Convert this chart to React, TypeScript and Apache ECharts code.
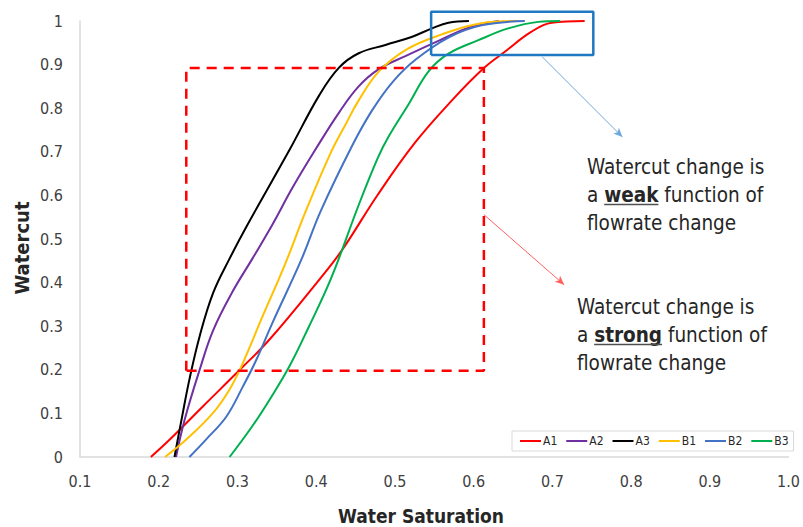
import React, { useEffect, useRef } from "react";
import * as echarts from "echarts";

// ---- data (water saturation, watercut) ----
const A1: number[][] = [[0.19,0],[0.214,0.04],[0.256,0.116],[0.303,0.2],[0.341,0.27],[0.404,0.407],[0.433,0.475],[0.478,0.601],[0.526,0.722],[0.573,0.819],[0.613,0.892],[0.64,0.93],[0.673,0.975],[0.699,0.996],[0.741,1.0]];
const A2: number[][] = [[0.222,0],[0.233,0.086],[0.252,0.2],[0.269,0.29],[0.294,0.38],[0.319,0.455],[0.345,0.535],[0.37,0.618],[0.4,0.708],[0.429,0.79],[0.454,0.85],[0.48,0.89],[0.514,0.92],[0.556,0.955],[0.597,0.987],[0.632,1.0]];
const A3: number[][] = [[0.22,0],[0.229,0.086],[0.239,0.178],[0.252,0.277],[0.269,0.376],[0.29,0.455],[0.311,0.527],[0.366,0.704],[0.404,0.83],[0.429,0.893],[0.454,0.926],[0.488,0.945],[0.522,0.964],[0.547,0.983],[0.568,0.996],[0.594,1.0]];
const B1: number[][] = [[0.208,0],[0.235,0.04],[0.269,0.101],[0.29,0.155],[0.305,0.208],[0.332,0.323],[0.36,0.44],[0.387,0.565],[0.419,0.7],[0.438,0.765],[0.454,0.818],[0.48,0.885],[0.514,0.934],[0.556,0.967],[0.61,0.995],[0.657,1.0]];
const B2: number[][] = [[0.239,0],[0.26,0.04],[0.286,0.093],[0.307,0.162],[0.324,0.223],[0.345,0.31],[0.381,0.452],[0.406,0.565],[0.446,0.715],[0.471,0.795],[0.497,0.86],[0.526,0.911],[0.568,0.962],[0.61,0.99],[0.665,1.0]];
const B3: number[][] = [[0.29,0],[0.319,0.071],[0.341,0.132],[0.366,0.208],[0.391,0.3],[0.419,0.41],[0.454,0.578],[0.478,0.685],[0.492,0.735],[0.518,0.811],[0.543,0.885],[0.568,0.925],[0.606,0.956],[0.644,0.983],[0.682,0.998],[0.71,1.0]];

const SERIES_NAMES = ["A1", "A2", "A3", "B1", "B2", "B3"];
const SERIES_DATA = [A1, A2, A3, B1, B2, B3];

// annotation regions in data coordinates
const STRONG_BOX: number[][] = [[0.235,0.198],[0.235,0.892],[0.613,0.892],[0.613,0.198],[0.235,0.198]];
const WEAK_BOX: number[][] = [[0.546,0.922],[0.546,1.021],[0.752,1.021],[0.752,0.922],[0.546,0.922]];
const WEAK_ARROW: number[][] = [[0.687,0.918],[0.789,0.734]];
const STRONG_ARROW: number[][] = [[0.613,0.556],[0.715,0.395]];

const WEAK_TEXT = ["Watercut change is", "a ", "weak", " function of", "flowrate change"];
const STRONG_TEXT = ["Watercut change is", "a ", "strong", " function of", "flowrate change"];

// ---- styles ----
const COLORS = ["#ff0000", "#7030a0", "#000000", "#ffc000", "#4472c4", "#00b050"];
const FONT = '"DejaVu Sans Condensed", "Liberation Sans", sans-serif';
const ANN_SIZE = 20.5;
const TEXT_COLOR = "#262626";

function measure(text: string, weight: string, size: number): number {
  const c = document.createElement("canvas");
  const ctx = c.getContext("2d");
  if (!ctx) return text.length * size * 0.5;
  ctx.font = `${weight} ${size}px ${FONT}`;
  return ctx.measureText(text).width;
}

function annotationBlock(lines: string[], x0: number, y0: number, lh: number) {
  const wA = measure(lines[1], "normal", ANN_SIZE);
  const wB = measure(lines[2], "bold", ANN_SIZE);
  const base = { fill: TEXT_COLOR, fontFamily: FONT, fontSize: ANN_SIZE, textVerticalAlign: "middle" };
  return [
    { type: "text", x: x0, y: y0, style: { ...base, text: lines[0] } },
    { type: "text", x: x0, y: y0 + lh, style: { ...base, text: lines[1] } },
    { type: "text", x: x0 + wA, y: y0 + lh, style: { ...base, text: lines[2], fontWeight: "bold" } },
    { type: "text", x: x0 + wA + wB, y: y0 + lh, style: { ...base, text: lines[3] } },
    { type: "text", x: x0, y: y0 + 2 * lh, style: { ...base, text: lines[4] } },
    {
      type: "line",
      shape: { x1: x0 + wA, y1: y0 + lh + 9.5, x2: x0 + wA + wB, y2: y0 + lh + 9.5 },
      style: { stroke: "#505050", lineWidth: 1.5 },
    },
  ];
}

export default function App() {
  const ref = useRef<HTMLDivElement>(null);
  useEffect(() => {
    document.body.style.margin = "0";
    if (!ref.current) return;
    const chart = echarts.init(ref.current, null, { renderer: "svg" });
    const curveSeries = SERIES_NAMES.map((name, i) => ({
      name,
      type: "line",
      data: SERIES_DATA[i],
      smooth: 0.4,
      showSymbol: false,
      symbol: "none",
      lineStyle: { color: COLORS[i], width: 2 },
      itemStyle: { color: COLORS[i] },
      z: 3,
    }));
    const option: any = {
      animation: false,
      grid: { left: 80, right: 12, top: 21, bottom: 70 },
      legend: {
        data: SERIES_NAMES,
        left: 512,
        top: 431,
        padding: [4, 5, 4, 8],
        borderColor: "#d9d9d9",
        borderWidth: 1,
        backgroundColor: "#ffffff",
        icon: "rect",
        itemWidth: 21,
        itemHeight: 2,
        itemGap: 9,
        textStyle: { fontFamily: FONT, fontSize: 12, color: TEXT_COLOR, padding: [0, 0, 0, -3] },
      },
      xAxis: {
        type: "value",
        min: 0.1,
        max: 1.0,
        interval: 0.1,
        axisLine: { lineStyle: { color: "#d9d9d9", width: 1.5 } },
        axisTick: { show: false },
        splitLine: { show: false },
        axisLabel: {
          fontFamily: FONT,
          fontSize: 16,
          color: "#404040",
          margin: 16,
          formatter: (v: number) => v.toFixed(1),
        },
      },
      yAxis: {
        type: "value",
        min: 0,
        max: 1,
        interval: 0.1,
        axisLine: { show: true, lineStyle: { color: "#d9d9d9", width: 1.5 } },
        axisTick: { show: false },
        splitLine: { show: false },
        axisLabel: {
          fontFamily: FONT,
          fontSize: 16,
          color: "#404040",
          margin: 17,
          formatter: (v: number) => (v === 0 ? "0" : v >= 0.999 ? "1" : v.toFixed(1)),
        },
      },
      series: [
        ...curveSeries,
        {
          name: "strongBox",
          type: "line",
          data: STRONG_BOX,
          symbol: "none",
          clip: false,
          silent: true,
          lineStyle: { color: "#ff0000", width: 2.5, type: [10, 7] },
          z: 4,
          markLine: {
            silent: true,
            symbol: ["none", "arrow"],
            symbolSize: [6, 9],
            label: { show: false },
            lineStyle: { color: "#ff6060", width: 1, type: "solid" },
            data: [[{ coord: STRONG_ARROW[0] }, { coord: STRONG_ARROW[1] }]],
          },
        },
        {
          name: "weakBox",
          type: "line",
          data: WEAK_BOX,
          symbol: "none",
          clip: false,
          silent: true,
          lineStyle: { color: "#1f78c1", width: 2.5 },
          z: 4,
          markLine: {
            silent: true,
            symbol: ["none", "arrow"],
            symbolSize: [6, 9],
            label: { show: false },
            lineStyle: { color: "#6fa8dc", width: 1, type: "solid" },
            data: [[{ coord: WEAK_ARROW[0] }, { coord: WEAK_ARROW[1] }]],
          },
        },
      ],
      graphic: [
        {
          type: "text",
          x: 421,
          y: 516,
          style: {
            text: "Water Saturation",
            fontFamily: FONT,
            fontSize: 19,
            fontWeight: "bold",
            fill: TEXT_COLOR,
            textAlign: "center",
            textVerticalAlign: "middle",
          },
        },
        {
          type: "text",
          x: 22,
          y: 248,
          rotation: Math.PI / 2,
          style: {
            text: "Watercut",
            fontFamily: FONT,
            fontSize: 20,
            fontWeight: "bold",
            fill: TEXT_COLOR,
            textAlign: "center",
            textVerticalAlign: "middle",
          },
        },
        ...annotationBlock(WEAK_TEXT, 587, 167, 28),
        ...annotationBlock(STRONG_TEXT, 577, 307, 28),
      ],
    };
    chart.setOption(option);
    return () => chart.dispose();
  }, []);
  return <div ref={ref} style={{ width: 803, height: 527 }} />;
}
